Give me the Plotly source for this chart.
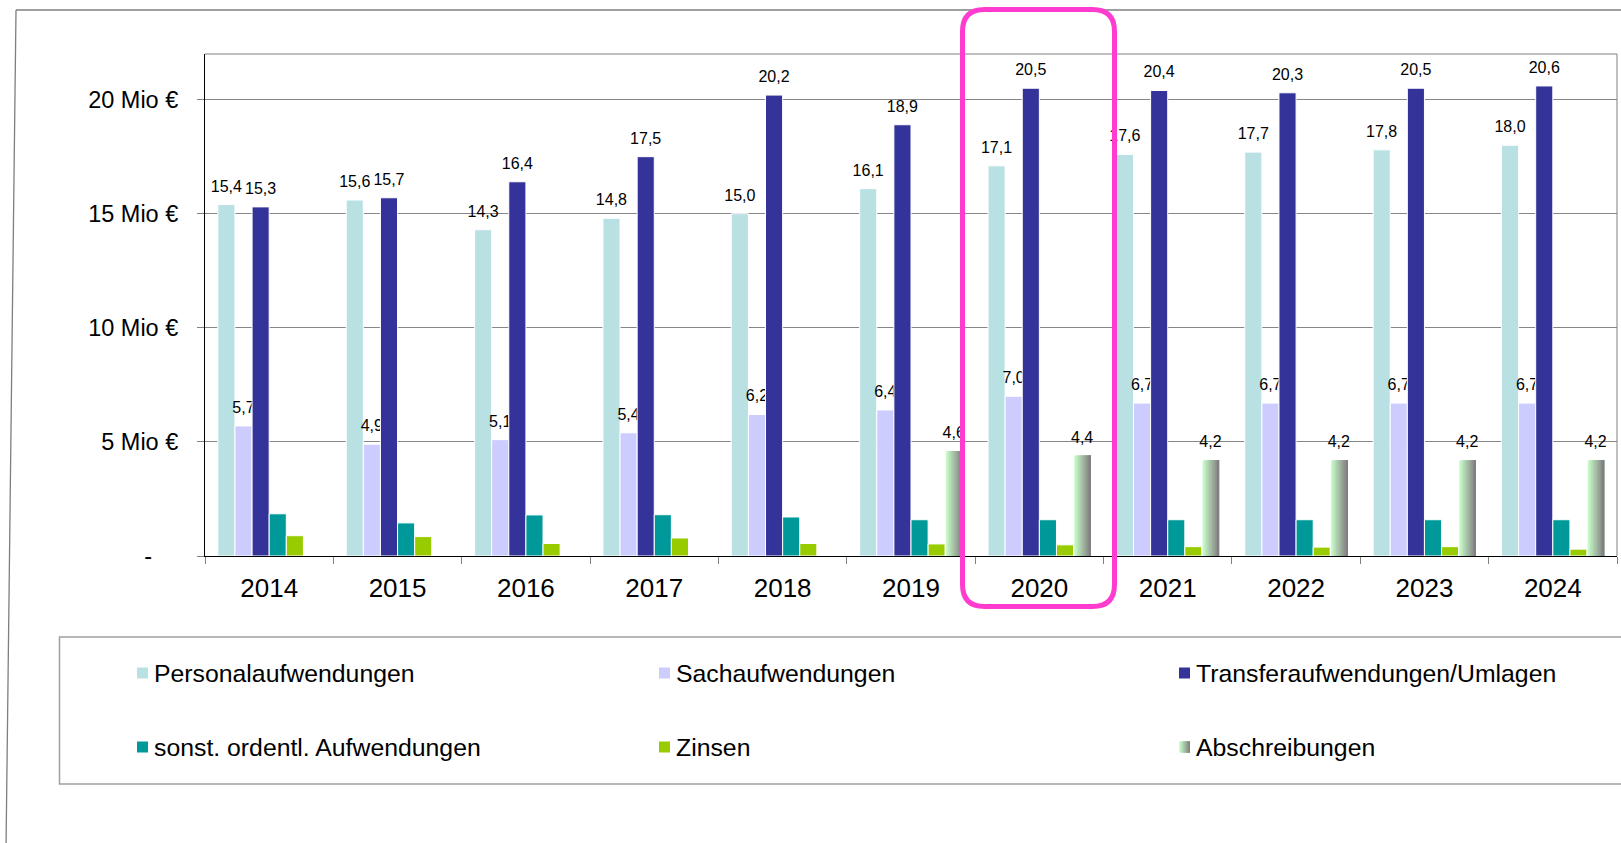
import plotly.graph_objects as go

# ---- data (Mio €) ----
years = ["2014", "2015", "2016", "2017", "2018", "2019", "2020", "2021", "2022", "2023", "2024"]
personal = [15.4, 15.6, 14.3, 14.8, 15.0, 16.1, 17.1, 17.6, 17.7, 17.8, 18.0]
sach = [5.7, 4.9, 5.1, 5.4, 6.2, 6.4, 7.0, 6.7, 6.7, 6.7, 6.7]
transfer = [15.3, 15.7, 16.4, 17.5, 20.2, 18.9, 20.5, 20.4, 20.3, 20.5, 20.6]
sonstige = [1.85, 1.45, 1.80, 1.81, 1.71, 1.59, 1.59, 1.59, 1.59, 1.59, 1.59]
zinsen = [0.89, 0.85, 0.55, 0.79, 0.55, 0.53, 0.49, 0.41, 0.39, 0.41, 0.30]
abschreibungen = [None, None, None, None, None, 4.6, 4.4, 4.2, 4.2, 4.2, 4.2]

series_names = ["Personalaufwendungen", "Sachaufwendungen", "Transferaufwendungen/Umlagen",
                "sonst. ordentl. Aufwendungen", "Zinsen", "Abschreibungen"]
y_tick_values = [0, 5, 10, 15, 20]
y_tick_labels = ["-\u00a0\u00a0\u00a0\u00a0", "5 Mio €", "10 Mio €", "15 Mio €", "20 Mio €"]

# ---- styling ----
FONT = "Liberation Sans, Arial, sans-serif"
C_PERS, C_SACH, C_TRANS = "#B9E1E3", "#CCCCFF", "#333399"
C_SONST, C_ZINS = "#009999", "#99CC00"
GRAD_FROM, GRAD_TO = (0xCC, 0xFF, 0xCC), (0x80, 0x80, 0x80)
N_STRIPES = 12

W, H = 1621, 843
ML, MR, MT, MB = 205, 4, 54, 287
PW, PH = W - ML - MR, H - MT - MB

GROUP = 0.8
BW = GROUP / 6
LABEL_PAD = 0.31   # extra lift of value labels above bar tops (axis units)


def px(x):
    return (x - ML) / PW


def py(y):
    return (H - MB - y) / PH


def fmt(vals):
    return ["" if v is None else f"{v:.1f}".replace(".", ",") for v in vals]


def offset(i):
    return -GROUP / 2 + i * BW


fig = go.Figure()


def add_series(idx, vals, color, line=True):
    fig.add_trace(go.Bar(
        x=years, y=vals, name=series_names[idx], offset=offset(idx), width=BW,
        marker=dict(color=color, line=dict(color="white", width=1 if line else 0)),
        hoverinfo="skip", showlegend=False,
    ))


def add_labels(idx, vals):
    fig.add_trace(go.Bar(
        x=years, y=[None if v is None else LABEL_PAD for v in vals], base=vals,
        offset=offset(idx), width=BW, text=fmt(vals), textposition="outside",
        textangle=0, constraintext="none", cliponaxis=False,
        textfont=dict(family=FONT, size=16, color="black"),
        marker=dict(color="rgba(0,0,0,0)", line=dict(width=0)),
        hoverinfo="skip", showlegend=False,
    ))


def grad_color(t):
    r, g, b = (round(a + (c - a) * t) for a, c in zip(GRAD_FROM, GRAD_TO))
    return f"rgb({r},{g},{b})"


add_series(0, personal, C_PERS)
add_labels(0, personal)
add_series(1, sach, C_SACH)
add_labels(1, sach)
add_series(2, transfer, C_TRANS)
add_labels(2, transfer)
add_series(3, sonstige, C_SONST)
add_series(4, zinsen, C_ZINS)

# Abschreibungen: horizontal light-green -> grey gradient built from nested bars
for k in range(N_STRIPES):
    frac = k / N_STRIPES
    fig.add_trace(go.Bar(
        x=years, y=abschreibungen, offset=offset(5) + frac * BW, width=BW * (1 - frac),
        marker=dict(color=grad_color(k / (N_STRIPES - 1)),
                    line=dict(color="white", width=1 if k == 0 else 0)),
        hoverinfo="skip", showlegend=False, name=series_names[5],
    ))
add_labels(5, abschreibungen)

shapes = []
GRAY = "#7f7f7f"
# outer frame
shapes.append(dict(type="line", xref="paper", yref="paper", x0=px(16), y0=py(10), x1=px(1630), y1=py(10),
                   line=dict(color=GRAY, width=1.3)))
shapes.append(dict(type="line", xref="paper", yref="paper", x0=px(16), y0=py(10), x1=px(6), y1=py(850),
                   line=dict(color=GRAY, width=1.3)))
# plot area border (top / right)
shapes.append(dict(type="line", xref="paper", yref="paper", x0=0, y0=1, x1=1, y1=1,
                   line=dict(color="#808080", width=1)))
shapes.append(dict(type="line", xref="paper", yref="paper", x0=1, y0=0, x1=1, y1=1,
                   line=dict(color="#808080", width=1)))
# legend box
shapes.append(dict(type="rect", xref="paper", yref="paper", x0=px(59.5), y0=py(637), x1=px(1640), y1=py(784),
                   line=dict(color="#a0a0a0", width=1.5), fillcolor="rgba(0,0,0,0)"))

# highlight frame around 2020
x0, x1, y0, y1, r = 962.5, 1114.5, 9.5, 606.5, 22


def P(x, y):
    return f"{px(x):.6f},{py(y):.6f}"


path = (f"M{P(x0 + r, y0)} L{P(x1 - r, y0)} Q{P(x1, y0)} {P(x1, y0 + r)} "
        f"L{P(x1, y1 - r)} Q{P(x1, y1)} {P(x1 - r, y1)} "
        f"L{P(x0 + r, y1)} Q{P(x0, y1)} {P(x0, y1 - r)} "
        f"L{P(x0, y0 + r)} Q{P(x0, y0)} {P(x0 + r, y0)} Z")
shapes.append(dict(type="path", xref="paper", yref="paper", path=path,
                   line=dict(color="#FF3CCF", width=5), fillcolor="rgba(0,0,0,0)"))

# legend entries (3 columns x 2 rows)
legend_cols = [137, 659, 1179]
legend_rows = [673, 747]
legend_colors = [C_PERS, C_SACH, C_TRANS, C_SONST, C_ZINS, None]
annotations = []
SW = 11
for i, name in enumerate(series_names):
    cx = legend_cols[i % 3]
    cy = legend_rows[i // 3]
    if legend_colors[i] is not None:
        shapes.append(dict(type="rect", xref="paper", yref="paper",
                           x0=px(cx), x1=px(cx + SW), y0=py(cy - SW / 2), y1=py(cy + SW / 2),
                           fillcolor=legend_colors[i], line=dict(width=0)))
    else:
        for k in range(N_STRIPES):
            a = cx + SW * k / N_STRIPES
            shapes.append(dict(type="rect", xref="paper", yref="paper",
                               x0=px(a), x1=px(cx + SW), y0=py(cy - SW / 2), y1=py(cy + SW / 2),
                               fillcolor=grad_color(k / (N_STRIPES - 1)), line=dict(width=0)))
    annotations.append(dict(xref="paper", yref="paper", x=px(cx + 15), y=py(cy), text=name,
                            showarrow=False, xanchor="left", yanchor="middle",
                            font=dict(family=FONT, size=24.8, color="black")))

fig.update_layout(
    width=W, height=H, autosize=False,
    margin=dict(l=ML, r=MR, t=MT, b=MB, pad=0),
    paper_bgcolor="white", plot_bgcolor="white",
    barmode="overlay", showlegend=False,
    font=dict(family=FONT, color="black"),
    shapes=shapes, annotations=annotations,
    xaxis=dict(type="category", range=[-0.5, 10.5], showline=True, linecolor="black", linewidth=1,
               ticks="outside", tickson="boundaries", ticklen=7, tickcolor="#808080", tickwidth=1,
               tickfont=dict(family=FONT, size=26, color="black"), showgrid=False,
               ticklabelstandoff=9, fixedrange=True),
    yaxis=dict(range=[0, 22.0], tickvals=y_tick_values, ticktext=y_tick_labels,
               showgrid=True, gridcolor="#868686", gridwidth=1, zeroline=False,
               showline=True, linecolor="black", linewidth=1,
               ticks="outside", ticklen=7, tickcolor="#808080", tickwidth=1,
               tickfont=dict(family=FONT, size=23.5, color="black"),
               ticklabelstandoff=14, fixedrange=True),
)

fig.write_html("out.html", config={"displayModeBar": False},
               post_script="document.body.style.margin='0';")
